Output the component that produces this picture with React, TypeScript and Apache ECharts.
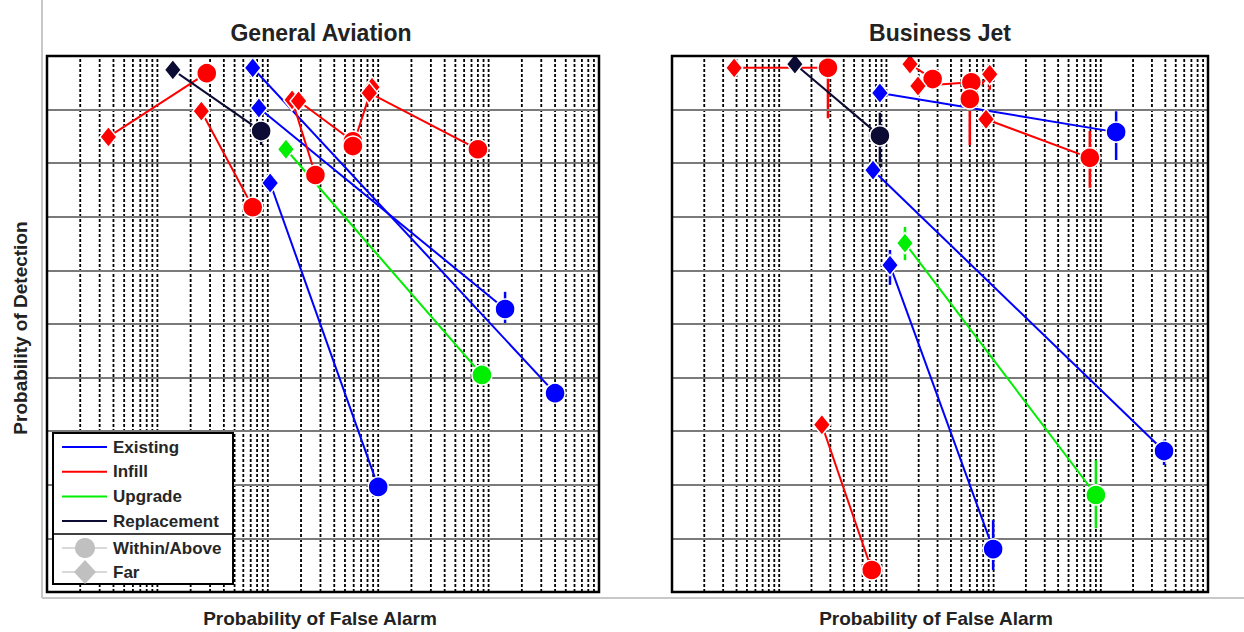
import React, { useEffect, useRef } from "react";
import * as echarts from "echarts";

type Pair = {
  far: [number, number];
  within: [number, number];
  farErr?: [number, number];
  withinErr?: [number, number];
};

// ---- General Aviation (left panel) ----
const GA_EXISTING: Pair[] = [
  { far: [7.3e-4, 0.978], within: [0.4, 0.371] },
  { far: [8.3e-4, 0.903], within: [0.141, 0.528], withinErr: [0.498, 0.56] },
  { far: [1.05e-3, 0.763], within: [0.01, 0.196], withinErr: [0.182, 0.21] },
];
const GA_INFILL: Pair[] = [
  { far: [3.6e-5, 0.849], within: [2.8e-4, 0.968] },
  { far: [2.5e-4, 0.897], within: [7.3e-4, 0.718] },
  { far: [1.66e-3, 0.918], within: [2.7e-3, 0.778] },
  { far: [1.9e-3, 0.916], within: [5.9e-3, 0.841] },
  { far: [8.8e-3, 0.942], within: [5.9e-3, 0.832] },
  { far: [8.3e-3, 0.931], within: [0.08, 0.826], withinErr: [0.806, 0.843] },
];
const GA_UPGRADE: Pair[] = [
  { far: [1.46e-3, 0.826], within: [0.087, 0.405], withinErr: [0.386, 0.423] },
];
const GA_REPLACEMENT: Pair[] = [
  { far: [1.38e-4, 0.974], within: [8.7e-4, 0.86], withinErr: [0.834, 0.877] },
];

// ---- Business Jet (right panel) ----
const BJ_EXISTING: Pair[] = [
  { far: [8.7e-4, 0.931], within: [0.139, 0.858], withinErr: [0.806, 0.897] },
  { far: [7.5e-4, 0.787], within: [0.389, 0.263], withinErr: [0.237, 0.284] },
  { far: [1.08e-3, 0.61], farErr: [0.573, 0.638], within: [9.9e-3, 0.08], withinErr: [0.041, 0.134] },
];
const BJ_INFILL: Pair[] = [
  { far: [3.8e-5, 0.978], within: [2.85e-4, 0.978], withinErr: [0.884, 0.978] },
  { far: [2.5e-4, 0.312], within: [7.3e-4, 0.041] },
  { far: [1.66e-3, 0.985], within: [2.7e-3, 0.957] },
  { far: [1.97e-3, 0.944], within: [6.2e-3, 0.951] },
  { far: [9.2e-3, 0.966], farErr: [0.937, 0.983], within: [6.0e-3, 0.92], withinErr: [0.834, 0.92] },
  { far: [8.5e-3, 0.882], within: [0.079, 0.81], withinErr: [0.754, 0.86] },
];
const BJ_UPGRADE: Pair[] = [
  { far: [1.49e-3, 0.651], farErr: [0.619, 0.681], within: [0.09, 0.181], withinErr: [0.119, 0.246] },
];
const BJ_REPLACEMENT: Pair[] = [
  { far: [1.4e-4, 0.985], within: [8.7e-4, 0.851], withinErr: [0.784, 0.894] },
];

const CATEGORIES = ["Existing", "Infill", "Upgrade", "Replacement"];
const COLORS = ["#0000ff", "#ff0000", "#00ee00", "#0b0b33"];
const PANEL_TITLES = ["General Aviation", "Business Jet"];
const X_LABEL = "Probability of False Alarm";
const Y_LABEL = "Probability of Detection";
const SHAPE_LABELS = ["Within/Above", "Far"];

// axis scaffolding
const X_MIN = 1e-5;
const X_MAX = 1;
const DECADES = [-5, -4, -3, -2, -1];
const MULTS = [1, 2, 3, 4, 5, 6, 7, 8, 9];
const Y_TICKS = [0.1, 0.2, 0.3, 0.4, 0.5, 0.6, 0.7, 0.8, 0.9];

const FONT = '"Liberation Sans", Arial, sans-serif';

export default function App() {
  const ref = useRef<HTMLDivElement>(null);
  useEffect(() => {
    if (!ref.current) return;
    const chart = echarts.init(ref.current, undefined, { renderer: "svg" });

    const panels = [
      [GA_EXISTING, GA_INFILL, GA_UPGRADE, GA_REPLACEMENT],
      [BJ_EXISTING, BJ_INFILL, BJ_UPGRADE, BJ_REPLACEMENT],
    ];

    const vLines: number[] = [];
    DECADES.forEach((d) =>
      MULTS.forEach((m) => {
        const v = m * Math.pow(10, d);
        if (v > X_MIN * 1.0001) vLines.push(v);
      })
    );

    const series: any[] = [];
    panels.forEach((groups, gi) => {
      const yIdx = gi * 2;
      // vertical dashed log grid lines, each a two-point line through the log scale
      vLines.forEach((v) => {
        series.push({
          type: "line",
          xAxisIndex: gi,
          yAxisIndex: yIdx,
          symbol: "none",
          silent: true,
          z: 1,
          lineStyle: { color: "#000", type: [3, 2], width: 1.8 },
          data: [
            [v, 0],
            [v, 1],
          ],
        });
      });
      // horizontal grid
      series.push({
        type: "line",
        xAxisIndex: gi,
        yAxisIndex: yIdx,
        data: [],
        silent: true,
        z: 1,
        markLine: {
          silent: true,
          symbol: ["none", "none"],
          label: { show: false },
          animation: false,
          lineStyle: { color: "#7a7a7a", type: "solid", width: 2 },
          data: Y_TICKS.map((v) => ({ yAxis: v })),
        },
      });
      groups.forEach((pairs, ci) => {
        const color = COLORS[ci];
        pairs.forEach((p) => {
          const errs: [number, [number, number]][] = [];
          if (p.farErr) errs.push([p.far[0], p.farErr]);
          if (p.withinErr) errs.push([p.within[0], p.withinErr]);
          errs.forEach(([x, [lo, hi]]) => {
            series.push({
              type: "line",
              xAxisIndex: gi,
              yAxisIndex: yIdx,
              symbol: "none",
              z: 4,
              lineStyle: { color, width: 2.5 },
              data: [
                [x, lo],
                [x, hi],
              ],
            });
          });
          series.push({
            type: "line",
            name: CATEGORIES[ci],
            xAxisIndex: gi,
            yAxisIndex: yIdx,
            z: 5,
            lineStyle: { color, width: 2 },
            itemStyle: { color, borderColor: "#fff", borderWidth: 1.5 },
            data: [
              { value: p.far, symbol: "diamond", symbolSize: [17, 21] },
              { value: p.within, symbol: "circle", symbolSize: 20 },
            ],
          });
        });
      });
    });

    const grids = [
      { left: 47, top: 56, width: 552, height: 536 },
      { left: 672, top: 56, width: 536, height: 536 },
    ];

    const xAxes = grids.map((_, i) => ({
      type: "log",
      logBase: 10,
      gridIndex: i,
      min: X_MIN,
      max: X_MAX,
      axisLabel: { show: false },
      axisTick: { show: false },
      axisLine: { show: false },
      splitLine: { show: false },
    }));
    const yAxes: any[] = [];
    grids.forEach((_, i) => {
      ["left", "right"].forEach((pos) => {
        yAxes.push({
          type: "value",
          gridIndex: i,
          position: pos,
          min: 0,
          max: 1,
          interval: 0.1,
          axisLabel: { show: false },
          axisLine: { show: false },
          axisTick: { show: true, inside: true, length: 5, lineStyle: { color: "#000", width: 2 } },
          splitLine: { show: false },
        });
      });
    });

    const legendX = 53;
    const legendY = 433;
    const legendGraphics: any[] = [
      {
        type: "rect",
        shape: { x: legendX, y: legendY, width: 180, height: 151 },
        style: { fill: "#fff", stroke: "#000", lineWidth: 2 },
        z: 100,
      },
      {
        type: "line",
        shape: { x1: legendX, y1: legendY + 101, x2: legendX + 180, y2: legendY + 101 },
        style: { stroke: "#000", lineWidth: 1.5 },
        z: 101,
      },
    ];
    CATEGORIES.forEach((c, i) => {
      const y = legendY + 14 + i * 24.7;
      legendGraphics.push({
        type: "line",
        shape: { x1: legendX + 9, y1: y, x2: legendX + 54, y2: y },
        style: { stroke: COLORS[i], lineWidth: 2 },
        z: 101,
      });
      legendGraphics.push({
        type: "text",
        x: legendX + 60,
        y,
        style: {
          text: c,
          font: `bold 17px ${FONT}`,
          fill: "#262626",
          textVerticalAlign: "middle",
        },
        z: 101,
      });
    });
    SHAPE_LABELS.forEach((s, i) => {
      const y = legendY + 115 + i * 24;
      legendGraphics.push({
        type: "line",
        shape: { x1: legendX + 9, y1: y, x2: legendX + 54, y2: y },
        style: { stroke: "#d9d9d9", lineWidth: 2 },
        z: 101,
      });
      if (i === 0) {
        legendGraphics.push({
          type: "circle",
          shape: { cx: legendX + 32, cy: y, r: 10 },
          style: { fill: "#c0c0c0" },
          z: 102,
        });
      } else {
        legendGraphics.push({
          type: "polygon",
          shape: {
            points: [
              [legendX + 32, y - 12],
              [legendX + 43, y],
              [legendX + 32, y + 12],
              [legendX + 21, y],
            ],
          },
          style: { fill: "#c0c0c0" },
          z: 102,
        });
      }
      legendGraphics.push({
        type: "text",
        x: legendX + 60,
        y,
        style: {
          text: s,
          font: `bold 17px ${FONT}`,
          fill: "#262626",
          textVerticalAlign: "middle",
        },
        z: 101,
      });
    });

    const borders = grids.map((g) => ({
      type: "rect",
      shape: { x: g.left, y: g.top, width: g.width, height: g.height },
      style: { fill: "none", stroke: "#000", lineWidth: 2.5 },
      z: 50,
      silent: true,
    }));

    const texts: any[] = [
      {
        type: "text",
        x: 321,
        y: 33,
        style: { text: PANEL_TITLES[0], font: `bold 23px ${FONT}`, fill: "#222", textAlign: "center", textVerticalAlign: "middle" },
      },
      {
        type: "text",
        x: 940,
        y: 33,
        style: { text: PANEL_TITLES[1], font: `bold 23px ${FONT}`, fill: "#222", textAlign: "center", textVerticalAlign: "middle" },
      },
      {
        type: "text",
        x: 320,
        y: 618,
        style: { text: X_LABEL, font: `bold 19px ${FONT}`, fill: "#222", textAlign: "center", textVerticalAlign: "middle" },
      },
      {
        type: "text",
        x: 936,
        y: 618,
        style: { text: X_LABEL, font: `bold 19px ${FONT}`, fill: "#222", textAlign: "center", textVerticalAlign: "middle" },
      },
      {
        type: "text",
        x: 20,
        y: 328,
        rotation: Math.PI / 2,
        style: { text: Y_LABEL, font: `bold 19px ${FONT}`, fill: "#222", textAlign: "center", textVerticalAlign: "middle" },
      },
      {
        type: "line",
        shape: { x1: 42, y1: 0, x2: 42, y2: 598 },
        style: { stroke: "#c8c8c8", lineWidth: 2 },
      },
      {
        type: "line",
        shape: { x1: 42, y1: 598, x2: 1244, y2: 598 },
        style: { stroke: "#c8c8c8", lineWidth: 2 },
      },
    ];

    chart.setOption({
      animation: false,
      backgroundColor: "#fff",
      textStyle: { fontFamily: FONT },
      grid: grids.map((g) => ({ ...g, show: true, backgroundColor: "#fff", borderWidth: 0 })),
      xAxis: xAxes,
      yAxis: yAxes,
      series,
      graphic: [...texts, ...borders, ...legendGraphics],
    });
    return () => chart.dispose();
  }, []);
  return (
    <div
      ref={ref}
      style={{ position: "fixed", left: 0, top: 0, width: 1244, height: 632, background: "#fff" }}
    />
  );
}
